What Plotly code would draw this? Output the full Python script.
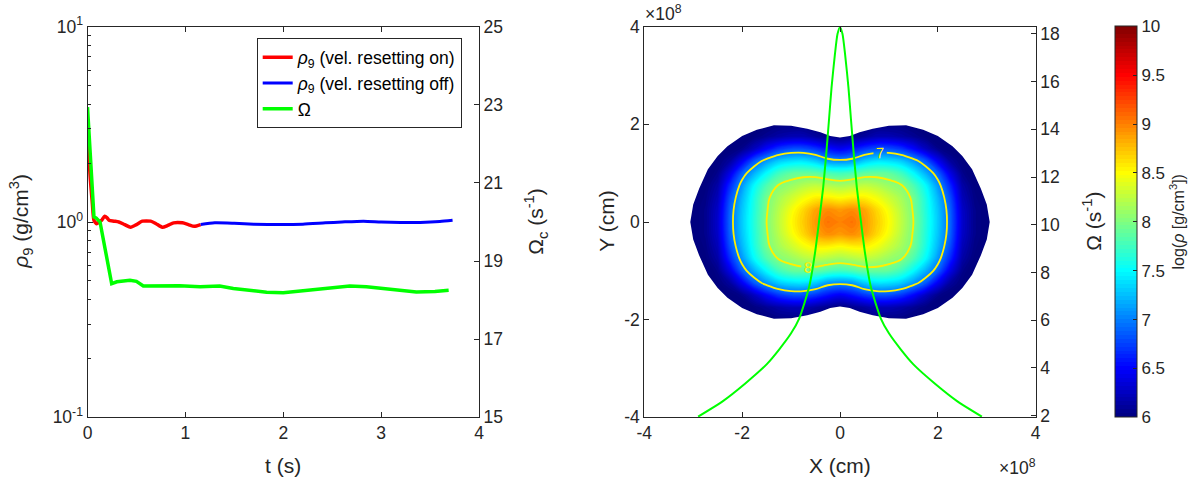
import numpy as np
import plotly.graph_objects as go

# ---- left panel: central density and angular velocity vs time ----
t_on = [0, 0.025, 0.05, 0.066, 0.094, 0.12, 0.145, 0.175, 0.2, 0.22, 0.27, 0.32,
        0.38, 0.44, 0.5, 0.56, 0.645, 0.7, 0.764, 0.82, 0.88, 0.97, 1.03, 1.09, 1.156]
rho_on = [3.2, 1.77, 1.24, 1.02, 0.98, 1.0, 1.02, 1.07, 1.05, 1.02, 1.01, 1.0,
          0.97, 0.94, 0.97, 1.01, 1.01, 0.98, 0.94, 0.96, 0.99, 0.99, 0.97, 0.95, 0.97]

t_off = [1.156, 1.3, 1.5, 1.7, 2.0, 2.2, 2.43, 2.6, 2.82, 3.0, 3.2, 3.4, 3.6, 3.73]
rho_off = [0.97, 0.99, 0.985, 0.975, 0.97, 0.975, 0.99, 1.0, 1.01, 1.0, 0.995, 0.995, 1.005, 1.02]

t_omega = [0, 0.033, 0.066, 0.09, 0.128, 0.247, 0.3, 0.434, 0.5, 0.57, 0.94, 1.15,
           1.35, 1.49, 1.83, 2.0, 2.27, 2.5, 2.68, 2.85, 3.1, 3.36, 3.55, 3.69]
omega_c = [22.94, 21.66, 20.13, 20.1, 20.0, 18.42, 18.47, 18.51, 18.48, 18.36, 18.37, 18.34,
           18.36, 18.30, 18.20, 18.19, 18.25, 18.32, 18.36, 18.34, 18.27, 18.21, 18.22, 18.25]

# ---- right panel: log density map, one quadrant (x, y in 1e8 cm) ----
xq = [0, 0.25, 0.5, 0.75, 1.0, 1.25, 1.5, 1.75, 2.0, 2.25, 2.5, 2.75, 3.0, 3.25]
yq = [0, 0.25, 0.5, 0.75, 1.0, 1.25, 1.5, 1.75, 2.0, 2.25]
logrho_q = [
    [9.0, 9.05, 8.9, 8.7, 8.5, 8.25, 8.0, 7.65, 7.3, 6.9, 6.3, 6.05, 5.95, 5.8],
    [8.9, 8.95, 8.85, 8.65, 8.45, 8.22, 7.98, 7.63, 7.28, 6.88, 6.28, 6.05, 5.95, 5.8],
    [8.5, 8.55, 8.55, 8.45, 8.3, 8.15, 7.95, 7.6, 7.22, 6.8, 6.22, 6.02, 5.9, 5.8],
    [8.15, 8.2, 8.25, 8.2, 8.1, 8.02, 7.8, 7.5, 7.1, 6.65, 6.15, 5.98, 5.85, 5.8],
    [7.75, 7.8, 7.88, 7.9, 7.88, 7.75, 7.5, 7.2, 6.88, 6.4, 6.05, 5.9, 5.8, 5.8],
    [7.05, 7.1, 7.3, 7.4, 7.38, 7.3, 7.1, 6.85, 6.45, 6.12, 5.98, 5.85, 5.8, 5.8],
    [6.45, 6.55, 6.7, 6.8, 6.8, 6.7, 6.5, 6.25, 6.05, 5.95, 5.85, 5.8, 5.8, 5.8],
    [6.0, 6.05, 6.12, 6.2, 6.2, 6.15, 6.08, 6.0, 5.9, 5.85, 5.8, 5.8, 5.8, 5.8],
    [5.85, 5.9, 5.95, 6.0, 6.0, 6.0, 5.95, 5.85, 5.8, 5.8, 5.8, 5.8, 5.8, 5.8],
    [5.8, 5.8, 5.8, 5.8, 5.8, 5.8, 5.8, 5.8, 5.8, 5.8, 5.8, 5.8, 5.8, 5.8],
]

# outer edge of the disc, first quadrant, from the top dent to the x axis
edge_x = [0, 0.2, 0.4, 0.67, 1.0, 1.35, 1.7, 2.0, 2.3, 2.5, 2.7, 2.88, 3.0, 3.06]
edge_y = [1.73, 1.76, 1.84, 1.91, 1.97, 1.98, 1.89, 1.76, 1.55, 1.35, 1.08, 0.68, 0.36, 0]

# angular velocity profile across x (1e8 cm)
x_prof = [-2.9, -2.4, -1.93, -1.5, -1.245, -1.0, -0.835, -0.63, -0.513, -0.425, -0.343,
          -0.281, -0.226, -0.172, -0.103, -0.05, 0, 0.05, 0.103, 0.172, 0.226, 0.281,
          0.343, 0.425, 0.513, 0.63, 0.835, 1.0, 1.245, 1.5, 1.93, 2.4, 2.9]
omega_prof = [1.96, 2.6, 3.36, 4.15, 4.77, 5.45, 6.07, 7.4, 8.79, 10.19, 11.58,
              12.98, 14.37, 15.77, 17.16, 18.0, 18.28, 18.0, 17.16, 15.77, 14.37, 12.98,
              11.58, 10.19, 8.79, 7.4, 6.07, 5.45, 4.77, 4.15, 3.36, 2.6, 1.96]

# mirror the quadrant to the full plane
q = np.array(logrho_q, dtype=float)
zx = np.hstack([q[:, :0:-1], q])
z = np.vstack([zx[:0:-1, :], zx])
xs = np.concatenate([-np.array(xq[:0:-1]), xq])
ys = np.concatenate([-np.array(yq[:0:-1]), yq])

# closed outline of the disc, then a white mask covering everything outside it
ex = np.array(edge_x)
ey = np.array(edge_y)
ring_x = np.concatenate([ex[::-1], ex[1:] * -1, -ex[::-1][1:], ex[1:]])
ring_y = np.concatenate([-ey[::-1], -ey[1:], ey[::-1][1:], ey[1:]])
ring_x, ring_y = ring_x[::-1], ring_y[::-1]
ring_x = np.concatenate([ring_x, ring_x[:1]])
ring_y = np.concatenate([ring_y, ring_y[:1]])
box = 4.5
mask_x = np.concatenate([[ex[-1], box, box, -box, -box, box, box], ring_x[::-1]])
mask_y = np.concatenate([[0, 0, box, box, -box, -box, 0], ring_y[::-1]])

jet = [[0, "rgb(0,0,128)"], [0.125, "rgb(0,0,255)"], [0.375, "rgb(0,255,255)"],
       [0.625, "rgb(255,255,0)"], [0.875, "rgb(255,0,0)"], [1, "rgb(128,0,0)"]]

ink = "rgb(38,38,38)"
fnt = "Liberation Sans, Arial, sans-serif"
yellow = "rgb(255,240,0)"

fig = go.Figure()
fig.add_trace(go.Scatter(x=t_on, y=rho_on, mode="lines", name="<i>ρ</i><sub>9</sub> (vel. resetting on)",
                         line=dict(color="rgb(255,0,0)", width=3.5, shape="spline", smoothing=0.6),
                         xaxis="x", yaxis="y"))
fig.add_trace(go.Scatter(x=t_off, y=rho_off, mode="lines", name="<i>ρ</i><sub>9</sub> (vel. resetting off)",
                         line=dict(color="rgb(0,0,255)", width=3, shape="spline", smoothing=0.6),
                         xaxis="x", yaxis="y"))
fig.add_trace(go.Scatter(x=t_omega, y=omega_c, mode="lines", name="Ω",
                         line=dict(color="rgb(0,255,0)", width=3.5),
                         xaxis="x", yaxis="y2"))

fig.add_trace(go.Contour(
    x=xs, y=ys, z=z, xaxis="x2", yaxis="y3", colorscale=jet, zmin=6, zmax=10,
    autocontour=False, contours=dict(start=6, end=10, size=0.04, coloring="fill"),
    line=dict(width=0, smoothing=1), showlegend=False, hoverinfo="skip",
    colorbar=dict(x=1115 / 1200, xanchor="left", y=1 - 417.3 / 479, yanchor="bottom",
                  len=390.6 / 479, lenmode="fraction", thickness=22, thicknessmode="pixels",
                  xpad=0, ypad=0, outlinewidth=1, outlinecolor=ink,
                  tickvals=[6, 6.5, 7, 7.5, 8, 8.5, 9, 9.5, 10],
                  ticktext=["6", "6.5", "7", "7.5", "8", "8.5", "9", "9.5", "10"],
                  ticks="inside", ticklen=4, tickcolor=ink,
                  tickfont=dict(family=fnt, size=17, color=ink),
                  title=dict(text="log(<i>ρ</i> [g/cm<sup>3</sup>])", side="right",
                             font=dict(family=fnt, size=16, color=ink)))))
fig.add_trace(go.Scatter(x=mask_x, y=mask_y, mode="lines", fill="toself", fillcolor="white",
                         line=dict(width=0, color="white"), showlegend=False, hoverinfo="skip",
                         xaxis="x2", yaxis="y3"))
fig.add_trace(go.Contour(
    x=xs, y=ys, z=z, xaxis="x2", yaxis="y3", showscale=False,
    autocontour=False, contours=dict(start=7, end=8, size=1, coloring="none", showlabels=True,
                                     labelfont=dict(family=fnt, size=15, color=yellow)),
    line=dict(color=yellow, width=1.8, smoothing=1),
    showlegend=False, hoverinfo="skip"))
fig.add_trace(go.Scatter(x=x_prof, y=omega_prof, mode="lines", showlegend=False,
                         line=dict(color="rgb(0,255,0)", width=2, shape="spline", smoothing=0.6),
                         xaxis="x2", yaxis="y4"))

ydom = [1 - 417.3 / 479, 1 - 26.7 / 479]
tickfont = dict(family=fnt, size=17.5, color=ink)
common = dict(showline=True, linecolor=ink, linewidth=1, ticks="inside", ticklen=5,
              tickcolor=ink, tickfont=tickfont, showgrid=False, zeroline=False)

fig.update_layout(
    width=1200, height=479,
    margin=dict(l=0, r=0, t=0, b=0, autoexpand=False),
    paper_bgcolor="white", plot_bgcolor="white",
    font=dict(family=fnt, color=ink),
    xaxis=dict(domain=[87.5 / 1200, 479 / 1200], range=[0, 4], tickvals=[0, 1, 2, 3, 4],
               mirror="ticks", anchor="y", **common),
    yaxis=dict(domain=ydom, type="log", range=[-1, 1], tickvals=[0.1, 1, 10],
               ticktext=["10<sup>-1</sup>", "10<sup>0</sup>", "10<sup>1</sup>"],
               minor=dict(ticks="inside", ticklen=3, tickcolor=ink,
                          tickvals=[0.2, 0.3, 0.4, 0.5, 0.6, 0.7, 0.8, 0.9,
                                    2, 3, 4, 5, 6, 7, 8, 9]),
               anchor="x", **common),
    yaxis2=dict(overlaying="y", side="right", range=[15, 25], tickvals=[15, 17, 19, 21, 23, 25],
                anchor="x", **common),
    xaxis2=dict(domain=[644.3 / 1200, 1035.7 / 1200], range=[-4, 4], tickvals=[-4, -2, 0, 2, 4],
                ticktext=["-4", "-2", "0", "2", "4"], mirror="ticks", anchor="y3", **common),
    yaxis3=dict(domain=ydom, range=[-4, 4], tickvals=[-4, -2, 0, 2, 4],
                ticktext=["-4", "-2", "0", "2", "4"], anchor="x2", **common),
    yaxis4=dict(overlaying="y3", side="right", range=[1.93, 18.3],
                tickvals=[2, 4, 6, 8, 10, 12, 14, 16, 18], anchor="x2", **common),
    legend=dict(x=256.7 / 1200, y=1 - 38.3 / 479, xanchor="left", yanchor="top",
                bgcolor="white", bordercolor=ink, borderwidth=1,
                font=dict(family=fnt, size=17.5, color="black"), tracegroupgap=0),
)

title_font = dict(family=fnt, size=21, color=ink)
ycen = 1 - 221.7 / 479
annots = [
    dict(text="t (s)", x=283 / 1200, y=1 - 465 / 479, textangle=0),
    dict(text="X (cm)", x=840 / 1200, y=1 - 465 / 479, textangle=0),
    dict(text="<i>ρ</i><sub>9</sub> (g/cm<sup>3</sup>)", x=21 / 1200, y=ycen, textangle=-90),
    dict(text="Ω<sub>c</sub> (s<sup>-1</sup>)", x=536 / 1200, y=ycen, textangle=-90),
    dict(text="Y (cm)", x=607 / 1200, y=ycen, textangle=-90),
    dict(text="Ω (s<sup>-1</sup>)", x=1092 / 1200, y=ycen, textangle=-90),
]
for a in annots:
    fig.add_annotation(xref="paper", yref="paper", xanchor="center", yanchor="middle",
                       showarrow=False, font=title_font, **a)
fig.add_annotation(text="×10<sup>8</sup>", xref="paper", yref="paper", x=643 / 1200, y=1 - 13 / 479,
                   xanchor="left", yanchor="middle", showarrow=False, font=tickfont)
fig.add_annotation(text="×10<sup>8</sup>", xref="paper", yref="paper", x=1038 / 1200, y=1 - 467 / 479,
                   xanchor="right", yanchor="middle", showarrow=False, font=tickfont)

fig.write_html("out.html", config={"displayModeBar": False},
               post_script="document.body.style.margin='0px';")
